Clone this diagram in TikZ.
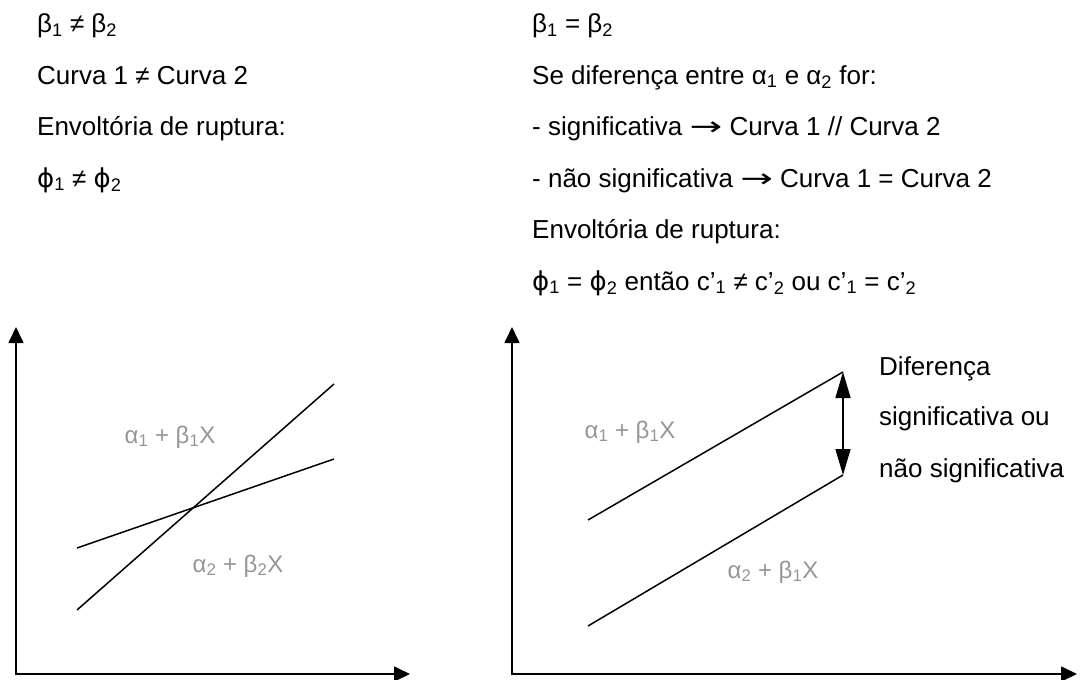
\documentclass[tikz,border=0pt]{standalone}
\usepackage{fontspec}
\setmainfont{Liberation Sans}
\newfontfamily\symf{DejaVu Sans}
\usetikzlibrary{arrows.meta}
\definecolor{labelgray}{RGB}{150,150,150}
\newcommand\sbx[1]{\textsubscript{#1}}
\newcommand\ph{{\symf ϕ}}
\newcommand\rarr{\scalebox{1.5}[1]{\symf →}}
\begin{document}
\begin{tikzpicture}[x=1pt,y=-1pt,
  hd/.style={font=\fontsize{26}{30}\selectfont, anchor=base west, inner sep=0pt},
  lbl/.style={font=\fontsize{24}{28}\selectfont, text=labelgray, inner sep=0pt},
  axes/.style={line width=1.7pt, {Triangle[length=16pt,width=15pt]}-{Triangle[length=16pt,width=15pt]}},
  curve/.style={line width=1.5pt},
  gaparrow/.style={line width=1.5pt, {Triangle[length=26pt,width=15pt]}-{Triangle[length=26pt,width=15pt]}}]
\useasboundingbox (0,0) rectangle (1082,680);
% left header
\node[hd] (l1) at (37,32.5) {β\sbx{1} ≠ β\sbx{2}};
\node[hd] (l2) at (37,84) {Curva 1 ≠ Curva 2};
\node[hd] (l3) at (37,135.5) {Envoltória de ruptura:};
\node[hd] (l4) at (37,187) {\ph\sbx{1} ≠ \ph\sbx{2}};
% right header
\node[hd] (r1) at (532,32.5) {β\sbx{1} = β\sbx{2}};
\node[hd] (r2) at (532,84) {Se diferença entre α\sbx{1} e α\sbx{2} for:};
\node[hd] (r3) at (532,135.5) {- significativa \rarr{} Curva 1 // Curva 2};
\node[hd] (r4) at (532,187) {- não significativa \rarr{} Curva 1 = Curva 2};
\node[hd] (r5) at (532,238.5) {Envoltória de ruptura:};
\node[hd] (r6) at (532,290) {\ph\sbx{1} = \ph\sbx{2} então c’\sbx{1} ≠ c’\sbx{2} ou c’\sbx{1} = c’\sbx{2}};
% left plot
\coordinate (lo) at (16,674);
\coordinate (ly) at (16,327);
\coordinate (lx) at (410,674);
\draw[axes] (ly) -- (lo) -- (lx);
\coordinate (s1) at (77,610);
\coordinate (s2) at (334,384);
\coordinate (f1) at (77,548);
\coordinate (f2) at (334,459);
\draw[curve] (s1) -- (s2);
\draw[curve] (f1) -- (f2);
\node[lbl] (la1) at (170,437) {α\sbx{1} + β\sbx{1}X};
\node[lbl] (la2) at (238,566) {α\sbx{2} + β\sbx{2}X};
% right plot
\coordinate (ro) at (512,674);
\coordinate (ry) at (512,327);
\coordinate (rx) at (1077,674);
\draw[axes] (ry) -- (ro) -- (rx);
\coordinate (u1) at (588,520);
\coordinate (u2) at (843,372);
\coordinate (w1) at (588,626);
\coordinate (w2) at (843,475);
\draw[curve] (u1) -- (u2);
\draw[curve] (w1) -- (w2);
\draw[gaparrow] (u2) -- (w2);
\node[lbl] (ra1) at (630,432) {α\sbx{1} + β\sbx{1}X};
\node[lbl] (ra2) at (773,572) {α\sbx{2} + β\sbx{1}X};
\node[hd] (d1) at (879,375) {Diferença};
\node[hd] (d2) at (879,425) {significativa ou};
\node[hd] (d3) at (879,477) {não significativa};
\end{tikzpicture}
\end{document}
